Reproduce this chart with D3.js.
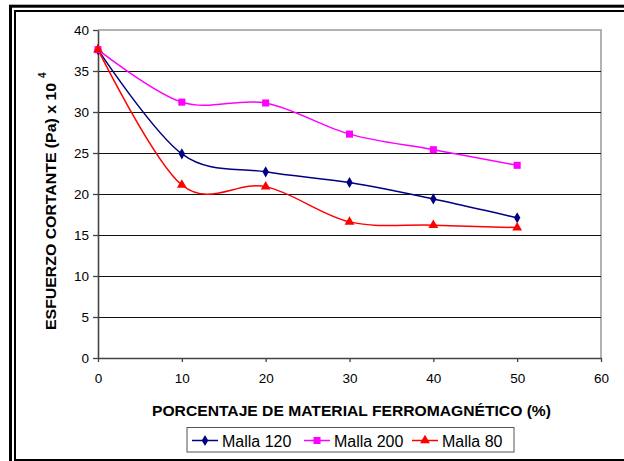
<!DOCTYPE html>
<html>
<head>
<meta charset="utf-8">
<script src="https://cdn.jsdelivr.net/npm/d3@7"></script>
<style>
  html, body { margin: 0; padding: 0; background: #fff; }
  svg { display: block; }
  svg text { font-family: "Liberation Sans", Arial, sans-serif; }
</style>
</head>
<body>
<svg id="chart" width="624" height="461"></svg>
<script>
// Porcentaje de material ferromagnético (%)
const porcentajes = [0, 10, 20, 30, 40, 50];

// Esfuerzo cortante (Pa x 10^4) por tamaño de malla
const malla120 = [37.6, 24.9, 22.7, 21.4, 19.4, 17.1];
const malla200 = [37.6, 31.2, 31.1, 27.3, 25.4, 23.5];
const malla80  = [37.6, 21.1, 20.9, 16.6, 16.2, 15.9];

const xTicks = [0, 10, 20, 30, 40, 50, 60];
const yTicks = [0, 5, 10, 15, 20, 25, 30, 35, 40];

const seriesNames = ["Malla 120", "Malla 200", "Malla 80"];

const series = [
  { name: seriesNames[0], values: malla120, color: "#000080", symbol: d3.symbolDiamond, size: 36 },
  { name: seriesNames[1], values: malla200, color: "#FF00FF", symbol: d3.symbolSquare, size: 50 },
  { name: seriesNames[2], values: malla80,  color: "#FF0000", symbol: d3.symbolTriangle, size: 42 }
];

const svg = d3.select("#chart");

// Double frame around the figure
svg.append("rect")
  .attr("x", 10.5).attr("y", 6.2)
  .attr("width", 700).attr("height", 600)
  .attr("fill", "none").attr("stroke", "#000").attr("stroke-width", 3);
svg.append("rect")
  .attr("x", 15).attr("y", 11)
  .attr("width", 700).attr("height", 449)
  .attr("fill", "none").attr("stroke", "#000").attr("stroke-width", 2);

const plot = { left: 98, right: 601, top: 30, bottom: 358 };

const x = d3.scaleLinear().domain([0, 60]).range([plot.left, plot.right]);
const y = d3.scaleLinear().domain([0, 40]).range([plot.bottom, plot.top]);

// Plot area border (top and right)
svg.append("path")
  .attr("d", `M${plot.left},${plot.top}H${plot.right}V${plot.bottom}`)
  .attr("fill", "none").attr("stroke", "#999").attr("stroke-width", 1.5);

// Horizontal gridlines
svg.append("g")
  .selectAll("line")
  .data(yTicks.filter(t => t > 0 && t < 40))
  .join("line")
  .attr("x1", plot.left).attr("x2", plot.right)
  .attr("y1", d => Math.round(y(d)) + 0.5).attr("y2", d => Math.round(y(d)) + 0.5)
  .attr("stroke", "#111").attr("stroke-width", 1.2);

// Y axis
const yAxis = svg.append("g")
  .attr("transform", `translate(${plot.left},0)`)
  .call(d3.axisLeft(y).tickValues(yTicks).tickSize(5).tickSizeOuter(0).tickPadding(4));
yAxis.select(".domain").attr("stroke", "#444").attr("stroke-width", 1.6);
yAxis.selectAll(".tick line").attr("stroke", "#444").attr("stroke-width", 1.3);
yAxis.selectAll(".tick text")
  .attr("font-size", 13.5).attr("fill", "#000")
  .attr("font-family", "Liberation Sans, Arial, sans-serif");

// X axis
const xAxis = svg.append("g")
  .attr("transform", `translate(0,${plot.bottom})`)
  .call(d3.axisBottom(x).tickValues(xTicks).tickSize(4).tickSizeOuter(0).tickPadding(11));
xAxis.select(".domain").attr("stroke", "#444").attr("stroke-width", 1.6);
xAxis.selectAll(".tick line").attr("stroke", "#444").attr("stroke-width", 1.3);
xAxis.selectAll(".tick text")
  .attr("font-size", 13.5).attr("fill", "#000")
  .attr("font-family", "Liberation Sans, Arial, sans-serif");

// Smoothed lines and markers
const line = d3.line()
  .x((d, i) => x(porcentajes[i]))
  .y(d => y(d))
  .curve(d3.curveCardinal.tension(0));

series.forEach(s => {
  svg.append("path")
    .datum(s.values)
    .attr("d", line)
    .attr("fill", "none")
    .attr("stroke", s.color)
    .attr("stroke-width", 1.5);
});
series.forEach(s => {
  svg.append("g")
    .selectAll("path")
    .data(s.values)
    .join("path")
    .attr("transform", (d, i) => `translate(${x(porcentajes[i])},${y(d)})`)
    .attr("d", d3.symbol().type(s.symbol).size(s.size))
    .attr("fill", s.color);
});

// Axis titles
svg.append("text")
  .attr("x", 152).attr("y", 415.5)
  .attr("font-size", 15).attr("font-weight", "bold")
  .attr("textLength", 399).attr("lengthAdjust", "spacingAndGlyphs")
  .text("PORCENTAJE DE MATERIAL FERROMAGNÉTICO (%)");

const yTitle = svg.append("g").attr("transform", "translate(56,330) rotate(-90)");
yTitle.append("text")
  .attr("font-size", 15).attr("font-weight", "bold")
  .attr("textLength", 247).attr("lengthAdjust", "spacingAndGlyphs")
  .text("ESFUERZO CORTANTE (Pa) x 10");
yTitle.append("text")
  .attr("x", 252).attr("y", -10)
  .attr("font-size", 10).attr("font-weight", "bold")
  .text("4");

// Legend
const legend = svg.append("g").attr("transform", "translate(186.5,427)");
legend.append("rect")
  .attr("x", 0.5).attr("y", 0.5)
  .attr("width", 327).attr("height", 24.5)
  .attr("fill", "#fff").attr("stroke", "#555").attr("stroke-width", 1);

const legendX = [5.5, 117.5, 225.5];
series.forEach((s, i) => {
  const g = legend.append("g").attr("transform", `translate(${legendX[i]},13.5)`);
  g.append("line")
    .attr("x1", 0).attr("x2", 26)
    .attr("stroke", s.color).attr("stroke-width", 1.5);
  g.append("path")
    .attr("transform", "translate(13,0)")
    .attr("d", d3.symbol().type(s.symbol).size(s.size))
    .attr("fill", s.color);
  g.append("text")
    .attr("x", 30).attr("y", 6.2)
    .attr("font-size", 16)
    .text(s.name);
});
</script>
</body>
</html>
